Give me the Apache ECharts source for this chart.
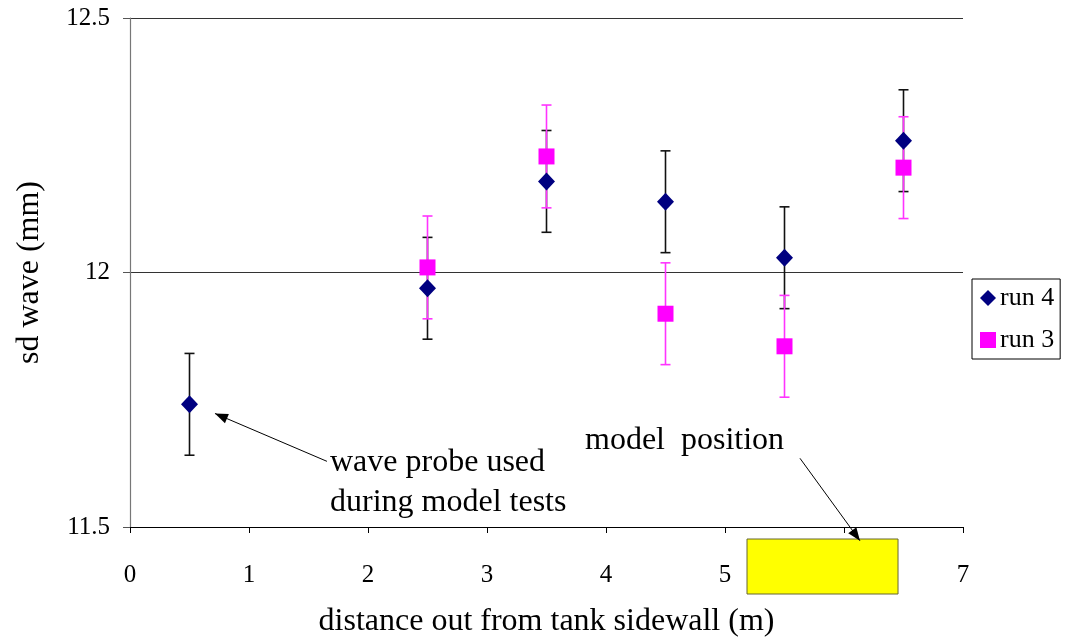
<!DOCTYPE html>
<html><head><meta charset="utf-8">
<script src="https://cdn.jsdelivr.net/npm/echarts@6/dist/echarts.min.js"></script>
<style>html,body{margin:0;padding:0;background:#fff}#c{width:1069px;height:639px}</style>
</head><body><div id="c"></div>
<script>
var xs = [0.5, 2.5, 3.5, 4.5, 5.5, 6.5];
var run4 = [11.741, 11.969, 12.179, 12.139, 12.029, 12.259];
var run4Err = [0.1, 0.1, 0.1, 0.1, 0.1, 0.1];
var xs3 = [2.5, 3.5, 4.5, 5.5, 6.5];
var run3 = [12.010, 12.228, 11.919, 11.855, 12.206];
var run3Err = [0.101, 0.101, 0.1, 0.1, 0.1];
var xTicks = [0, 1, 2, 3, 4, 5, 6, 7];
var yTicks = [11.5, 12, 12.5];

var FONT = 'Liberation Serif';
var chart = echarts.init(document.getElementById('c'));

function errData(x, y, e) {
  return x.map(function (v, i) { return [v, y[i] - e[i], y[i] + e[i]]; });
}
function errSeries(data, color, w) {
  return {
    type: 'custom', silent: true, z: 2,
    data: data,
    encode: { x: 0, y: [1, 2] },
    renderItem: function (params, api) {
      var top = api.coord([api.value(0), api.value(2)]);
      var bot = api.coord([api.value(0), api.value(1)]);
      var hw = 5;
      var st = { stroke: color, lineWidth: w };
      return {
        type: 'group', children: [
          { type: 'line', shape: { x1: top[0], y1: top[1], x2: bot[0], y2: bot[1] }, style: st },
          { type: 'line', shape: { x1: top[0] - hw, y1: top[1], x2: top[0] + hw, y2: top[1] }, style: st },
          { type: 'line', shape: { x1: bot[0] - hw, y1: bot[1], x2: bot[0] + hw, y2: bot[1] }, style: st }
        ]
      };
    }
  };
}

chart.setOption({
  animation: false,
  grid: { left: 130, right: 106, top: 18, bottom: 112, containLabel: false, outerBoundsMode: 'none' },
  xAxis: {
    type: 'value', min: xTicks[0], max: xTicks[xTicks.length - 1], interval: 1,
    name: 'distance out from tank sidewall (m)', nameLocation: 'middle', nameGap: 79,
    nameTextStyle: { fontFamily: FONT, fontSize: 32, color: '#000' },
    axisLine: { show: true, lineStyle: { color: '#000', width: 1.2 } },
    axisTick: { show: true, length: 6, lineStyle: { color: '#000' } },
    axisLabel: { fontFamily: FONT, fontSize: 25, color: '#000', margin: 36 },
    splitLine: { show: false }
  },
  yAxis: {
    type: 'value', min: yTicks[0], max: yTicks[yTicks.length - 1], interval: 0.5,
    name: 'sd wave (mm)', nameLocation: 'middle', nameGap: 84, nameRotate: 90,
    nameTextStyle: { fontFamily: FONT, fontSize: 32, color: '#000' },
    axisLine: { show: true, lineStyle: { color: '#777', width: 1.2 } },
    axisTick: { show: true, length: 7, inside: false, lineStyle: { color: '#555' } },
    axisLabel: { fontFamily: FONT, fontSize: 25, color: '#000', margin: 20 },
    splitLine: { show: true, lineStyle: { color: '#333', width: 1.2 } }
  },
  legend: {
    orient: 'vertical', left: 972, top: 279,
    borderColor: '#000', borderWidth: 1, borderRadius: 0,
    padding: [6, 6, 6, 8], itemGap: 16,
    itemWidth: 16, itemHeight: 16,
    textStyle: { fontFamily: FONT, fontSize: 26, color: '#000', padding: [0, 0, 0, -1] },
    data: ['run 4', 'run 3']
  },
  series: [
    errSeries(errData(xs, run4, run4Err), '#111', 1.6),
    errSeries(errData(xs3, run3, run3Err), '#ff33ff', 1.6),
    {
      name: 'run 4', type: 'scatter', symbol: 'diamond', symbolSize: [17, 18], z: 3,
      itemStyle: { color: '#000080', opacity: 1 },
      data: xs.map(function (v, i) { return [v, run4[i]]; })
    },
    {
      name: 'run 3', type: 'scatter', symbol: 'rect', symbolSize: [16, 16], z: 4,
      itemStyle: { color: '#ff00ff', opacity: 1 },
      data: xs3.map(function (v, i) { return [v, run3[i]]; })
    }
  ]
});

function px(x, y) { return chart.convertToPixel({ gridIndex: 0 }, [x, y]); }
var a1s = px(1.655, 11.629), a1e = px(0.714, 11.723);
var a2s = px(5.63, 11.635), a2e = px(6.134, 11.473);
var rL = px(5.185, 11.5), rR = px(6.454, 11.5);
function arrowHead(s, e) {
  var dx = e[0] - s[0], dy = e[1] - s[1], L = Math.sqrt(dx * dx + dy * dy);
  var ux = dx / L, uy = dy / L, len = 13, hw = 5;
  var bx = e[0] - ux * len, by = e[1] - uy * len;
  return [[e[0], e[1]], [bx - uy * hw, by + ux * hw], [bx + uy * hw, by - ux * hw]];
}
var txt = { fontFamily: FONT, fontSize: 32, fill: '#000' };
chart.setOption({
  graphic: [
    { type: 'rect', shape: { x: rL[0], y: rL[1] + 12, width: rR[0] - rL[0], height: 55 },
      style: { fill: '#ffff00', stroke: '#666633', lineWidth: 1 }, z: 10 },
    { type: 'line', shape: { x1: a1s[0], y1: a1s[1], x2: a1e[0], y2: a1e[1] }, style: { stroke: '#000', lineWidth: 1 }, z: 10 },
    { type: 'polygon', shape: { points: arrowHead(a1s, a1e) }, style: { fill: '#000' }, z: 10 },
    { type: 'line', shape: { x1: a2s[0], y1: a2s[1], x2: a2e[0], y2: a2e[1] }, style: { stroke: '#000', lineWidth: 1 }, z: 10 },
    { type: 'polygon', shape: { points: arrowHead(a2s, a2e) }, style: { fill: '#000' }, z: 10 },
    { type: 'text', x: 330, y: 463, style: Object.assign({ text: 'wave probe used', verticalAlign: 'middle' }, txt), z: 10 },
    { type: 'text', x: 330, y: 503, style: Object.assign({ text: 'during model tests', verticalAlign: 'middle' }, txt), z: 10 },
    { type: 'text', x: 585, y: 441, style: Object.assign({ text: 'model  position', verticalAlign: 'middle' }, txt), z: 10 }
  ]
});
</script></body></html>
